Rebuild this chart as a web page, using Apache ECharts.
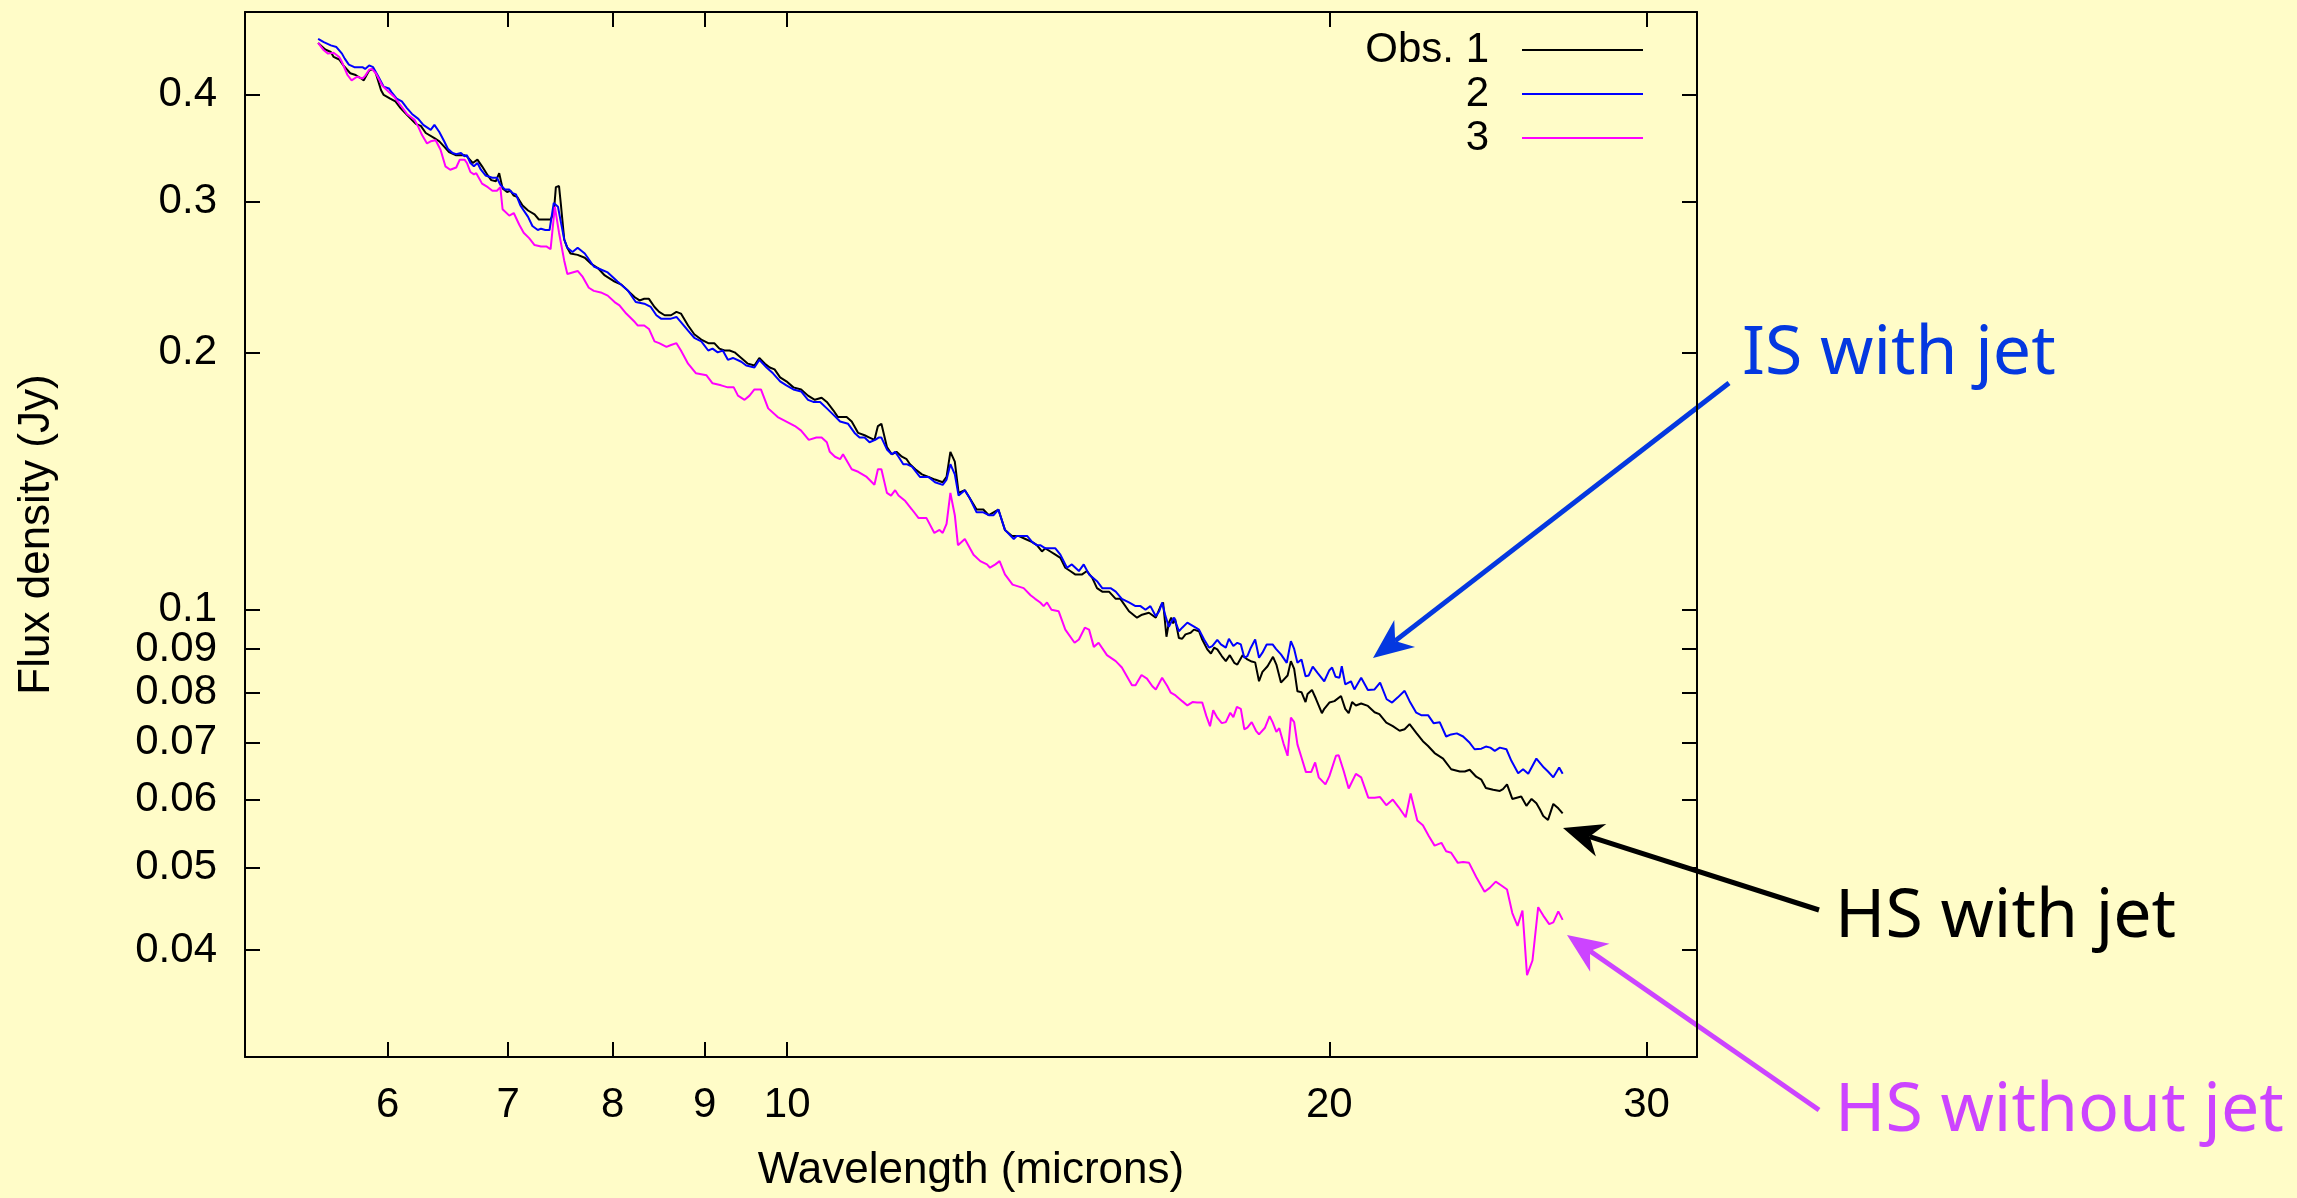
<!DOCTYPE html>
<html>
<head>
<meta charset="utf-8">
<title>Flux density vs wavelength</title>
<script src="https://cdn.jsdelivr.net/npm/echarts@6/dist/echarts.min.js"></script>
<style>
  html, body { margin: 0; padding: 0; background: #fffcc8; }
  #chart { width: 2297px; height: 1198px; }
</style>
</head>
<body>
<div id="chart"></div>
<script>
// [wavelength (microns), flux density (Jy)]
var obs1 = [
  [5.49,0.460],[5.54,0.452],[5.58,0.449],[5.60,0.443],[5.64,0.440],[5.67,0.433],[5.72,0.424],[5.76,0.422],[5.80,0.418],[5.82,0.416],
  [5.86,0.427],[5.89,0.429],[5.91,0.424],[5.95,0.405],[5.97,0.400],[6.02,0.396],[6.06,0.393],[6.10,0.386],[6.15,0.379],[6.22,0.370],
  [6.26,0.368],[6.30,0.361],[6.37,0.356],[6.41,0.353],[6.45,0.348],[6.49,0.343],[6.55,0.340],[6.62,0.340],[6.64,0.339],[6.69,0.333],
  [6.73,0.336],[6.77,0.330],[6.82,0.322],[6.85,0.318],[6.89,0.317],[6.92,0.324],[6.95,0.311],[6.99,0.308],[7.02,0.309],[7.05,0.305],
  [7.08,0.304],[7.13,0.297],[7.18,0.293],[7.24,0.290],[7.28,0.286],[7.34,0.286],[7.39,0.286],[7.42,0.291],[7.44,0.312],[7.47,0.313],
  [7.49,0.296],[7.52,0.271],[7.55,0.265],[7.58,0.261],[7.65,0.260],[7.72,0.258],[7.78,0.254],[7.85,0.251],[7.92,0.246],[8.02,0.242],
  [8.09,0.240],[8.16,0.236],[8.23,0.232],[8.28,0.230],[8.33,0.231],[8.38,0.231],[8.44,0.226],[8.49,0.223],[8.55,0.221],[8.62,0.221],
  [8.68,0.223],[8.73,0.222],[8.81,0.215],[8.88,0.210],[8.96,0.207],[9.04,0.205],[9.11,0.205],[9.17,0.202],[9.23,0.201],[9.29,0.201],
  [9.35,0.200],[9.43,0.197],[9.51,0.194],[9.59,0.193],[9.65,0.197],[9.72,0.194],[9.78,0.192],[9.84,0.191],[9.91,0.187],[9.99,0.185],
  [10.08,0.182],[10.18,0.181],[10.27,0.178],[10.36,0.176],[10.45,0.177],[10.52,0.175],[10.61,0.171],[10.67,0.168],[10.79,0.168],[10.86,0.166],
  [10.95,0.161],[11.04,0.160],[11.11,0.159],[11.18,0.158],[11.23,0.164],[11.28,0.165],[11.36,0.155],[11.43,0.152],[11.50,0.153],[11.58,0.151],
  [11.65,0.150],[11.70,0.148],[11.78,0.146],[11.88,0.144],[11.98,0.143],[12.08,0.142],[12.20,0.141],[12.26,0.143],[12.32,0.153],[12.39,0.149],
  [12.45,0.137],[12.55,0.138],[12.63,0.135],[12.74,0.131],[12.85,0.131],[12.94,0.129],[13.02,0.130],[13.10,0.131],[13.21,0.124],[13.33,0.122],
  [13.44,0.122],[13.56,0.121],[13.68,0.120],[13.76,0.119],[13.85,0.117],[13.91,0.118],[14.00,0.117],[14.09,0.116],[14.18,0.115],[14.27,0.112],
  [14.36,0.111],[14.45,0.110],[14.58,0.110],[14.67,0.111],[14.77,0.109],[14.86,0.106],[14.96,0.105],[15.09,0.105],[15.22,0.103],[15.31,0.103],
  [15.48,0.0996],[15.64,0.0979],[15.74,0.0987],[15.88,0.0992],[16.02,0.0979],[16.12,0.101],[16.17,0.102],[16.24,0.0930],[16.29,0.0966],[16.34,0.0979],
  [16.38,0.0964],[16.42,0.0976],[16.50,0.0927],[16.57,0.0925],[16.64,0.0936],[16.75,0.0940],[16.82,0.0948],[16.93,0.0944],[17.00,0.0923],[17.11,0.0899],
  [17.19,0.0889],[17.26,0.0903],[17.33,0.0899],[17.43,0.0883],[17.52,0.0871],[17.61,0.0885],[17.71,0.0867],[17.78,0.0863],[17.90,0.0885],[18.01,0.0875],
  [18.11,0.0870],[18.19,0.0868],[18.28,0.0825],[18.36,0.0846],[18.48,0.0859],[18.61,0.0881],[18.69,0.0863],[18.80,0.0822],[18.96,0.0838],[19.04,0.0871],
  [19.12,0.0853],[19.20,0.0803],[19.30,0.0801],[19.40,0.0780],[19.45,0.0797],[19.56,0.0806],[19.66,0.0787],[19.81,0.0757],[19.87,0.0766],[20.00,0.0779],
  [20.13,0.0782],[20.30,0.0793],[20.41,0.0766],[20.50,0.0757],[20.59,0.0780],[20.69,0.0773],[20.83,0.0777],[21.01,0.0772],[21.19,0.0759],[21.32,0.0755],
  [21.51,0.0738],[21.69,0.0731],[21.88,0.0722],[22.02,0.0725],[22.16,0.0735],[22.35,0.0718],[22.54,0.0702],[22.69,0.0693],[22.88,0.0680],[23.13,0.0670],
  [23.37,0.0651],[23.63,0.0647],[23.78,0.0647],[23.93,0.0650],[24.13,0.0638],[24.29,0.0633],[24.43,0.0619],[24.66,0.0616],[24.87,0.0614],[24.97,0.0617],
  [25.10,0.0625],[25.27,0.0601],[25.56,0.0605],[25.73,0.0590],[25.90,0.0601],[26.06,0.0594],[26.18,0.0584],[26.29,0.0574],[26.45,0.0568],[26.63,0.0593],
  [26.80,0.0586],[26.95,0.0578]
];

var obs2 = [
  [5.49,0.465],[5.53,0.461],[5.58,0.457],[5.62,0.455],[5.66,0.447],[5.68,0.441],[5.71,0.434],[5.75,0.431],[5.81,0.431],[5.83,0.429],
  [5.86,0.433],[5.89,0.431],[5.93,0.420],[5.97,0.409],[6.01,0.407],[6.03,0.403],[6.07,0.396],[6.11,0.393],[6.15,0.386],[6.19,0.380],
  [6.24,0.375],[6.28,0.369],[6.34,0.364],[6.37,0.369],[6.41,0.362],[6.45,0.353],[6.48,0.346],[6.52,0.342],[6.55,0.341],[6.59,0.342],
  [6.62,0.339],[6.64,0.340],[6.67,0.333],[6.70,0.330],[6.73,0.333],[6.76,0.327],[6.80,0.322],[6.86,0.320],[6.90,0.320],[6.93,0.314],
  [6.97,0.310],[7.01,0.310],[7.04,0.307],[7.07,0.306],[7.11,0.297],[7.18,0.288],[7.22,0.281],[7.27,0.278],[7.30,0.279],[7.34,0.278],
  [7.38,0.278],[7.42,0.299],[7.46,0.296],[7.49,0.283],[7.52,0.271],[7.55,0.265],[7.60,0.262],[7.65,0.265],[7.72,0.261],[7.81,0.252],
  [7.88,0.250],[7.95,0.248],[8.05,0.242],[8.16,0.236],[8.24,0.229],[8.33,0.228],[8.40,0.226],[8.46,0.221],[8.51,0.219],[8.62,0.219],
  [8.68,0.220],[8.73,0.217],[8.81,0.212],[8.88,0.208],[8.96,0.206],[9.04,0.201],[9.09,0.202],[9.15,0.200],[9.21,0.201],[9.27,0.196],
  [9.33,0.197],[9.43,0.195],[9.49,0.193],[9.59,0.192],[9.65,0.196],[9.74,0.192],[9.82,0.189],[9.91,0.185],[9.99,0.183],[10.08,0.181],
  [10.18,0.180],[10.27,0.176],[10.34,0.175],[10.43,0.175],[10.52,0.172],[10.61,0.169],[10.70,0.166],[10.81,0.165],[10.90,0.161],[10.97,0.159],
  [11.04,0.159],[11.11,0.157],[11.19,0.158],[11.24,0.159],[11.28,0.159],[11.36,0.154],[11.43,0.152],[11.48,0.153],[11.53,0.151],[11.60,0.148],
  [11.65,0.148],[11.73,0.147],[11.85,0.143],[11.98,0.143],[12.08,0.141],[12.20,0.140],[12.26,0.142],[12.32,0.148],[12.39,0.144],[12.45,0.136],
  [12.55,0.138],[12.63,0.135],[12.74,0.130],[12.85,0.130],[12.94,0.129],[13.02,0.129],[13.10,0.131],[13.21,0.124],[13.36,0.121],[13.41,0.122],
  [13.50,0.122],[13.59,0.122],[13.68,0.120],[13.76,0.119],[13.82,0.119],[13.91,0.118],[14.00,0.118],[14.09,0.118],[14.18,0.116],[14.30,0.112],
  [14.39,0.113],[14.52,0.111],[14.61,0.113],[14.71,0.110],[14.86,0.108],[14.96,0.106],[15.12,0.106],[15.22,0.105],[15.34,0.103],[15.48,0.102],
  [15.61,0.101],[15.71,0.101],[15.81,0.100],[15.91,0.101],[16.02,0.0983],[16.09,0.0996],[16.15,0.102],[16.22,0.0983],[16.29,0.0955],[16.35,0.0970],
  [16.40,0.0979],[16.45,0.0961],[16.50,0.0944],[16.57,0.0953],[16.68,0.0966],[16.75,0.0961],[16.86,0.0953],[16.93,0.0948],[17.04,0.0923],[17.15,0.0903],
  [17.22,0.0907],[17.33,0.0922],[17.41,0.0911],[17.52,0.0903],[17.59,0.0925],[17.69,0.0907],[17.78,0.0915],[17.86,0.0911],[17.94,0.0879],[18.01,0.0883],
  [18.09,0.0903],[18.19,0.0923],[18.28,0.0879],[18.36,0.0891],[18.46,0.0911],[18.60,0.0911],[18.68,0.0900],[18.80,0.0887],[18.94,0.0867],[19.04,0.0919],
  [19.12,0.0900],[19.20,0.0867],[19.30,0.0875],[19.40,0.0836],[19.48,0.0838],[19.58,0.0858],[19.70,0.0844],[19.87,0.0825],[20.00,0.0850],[20.07,0.0856],
  [20.16,0.0835],[20.26,0.0833],[20.32,0.0859],[20.41,0.0818],[20.56,0.0825],[20.65,0.0807],[20.83,0.0833],[21.01,0.0806],[21.19,0.0807],[21.34,0.0822],
  [21.52,0.0786],[21.67,0.0779],[21.83,0.0790],[22.02,0.0804],[22.16,0.0782],[22.35,0.0758],[22.49,0.0753],[22.69,0.0753],[22.85,0.0737],[23.03,0.0739],
  [23.22,0.0711],[23.37,0.0715],[23.54,0.0717],[23.73,0.0711],[23.93,0.0699],[24.08,0.0687],[24.29,0.0688],[24.43,0.0692],[24.57,0.0690],[24.71,0.0684],
  [24.87,0.0690],[25.08,0.0687],[25.24,0.0666],[25.46,0.0644],[25.62,0.0651],[25.79,0.0643],[26.06,0.0670],[26.12,0.0672],[26.31,0.0654],[26.45,0.0647],
  [26.63,0.0637],[26.83,0.0654],[26.95,0.0643]
];

var obs3 = [
  [5.49,0.460],[5.53,0.451],[5.56,0.447],[5.60,0.448],[5.64,0.443],[5.66,0.437],[5.70,0.422],[5.73,0.416],[5.77,0.420],[5.81,0.418],
  [5.83,0.421],[5.86,0.428],[5.88,0.429],[5.91,0.424],[5.96,0.410],[6.01,0.403],[6.05,0.398],[6.10,0.389],[6.15,0.380],[6.21,0.374],
  [6.24,0.367],[6.27,0.359],[6.31,0.351],[6.34,0.353],[6.38,0.354],[6.42,0.345],[6.46,0.330],[6.50,0.327],[6.55,0.329],[6.58,0.336],
  [6.62,0.336],[6.64,0.333],[6.67,0.325],[6.70,0.323],[6.72,0.324],[6.77,0.315],[6.82,0.312],[6.86,0.309],[6.90,0.309],[6.93,0.312],
  [6.95,0.294],[7.01,0.289],[7.05,0.291],[7.10,0.282],[7.14,0.276],[7.19,0.272],[7.24,0.267],[7.30,0.266],[7.35,0.266],[7.39,0.264],
  [7.43,0.296],[7.47,0.276],[7.52,0.256],[7.55,0.247],[7.60,0.248],[7.65,0.249],[7.70,0.245],[7.76,0.238],[7.81,0.236],[7.88,0.235],
  [7.95,0.233],[8.02,0.229],[8.07,0.227],[8.14,0.222],[8.23,0.217],[8.26,0.215],[8.33,0.215],[8.38,0.213],[8.44,0.206],[8.49,0.205],
  [8.57,0.203],[8.62,0.204],[8.68,0.205],[8.73,0.201],[8.81,0.194],[8.90,0.189],[9.02,0.188],[9.09,0.184],[9.19,0.183],[9.27,0.182],
  [9.34,0.182],[9.39,0.178],[9.47,0.176],[9.53,0.178],[9.59,0.181],[9.67,0.181],[9.76,0.172],[9.88,0.168],[9.99,0.166],[10.10,0.164],
  [10.18,0.162],[10.28,0.158],[10.38,0.159],[10.45,0.159],[10.52,0.157],[10.56,0.153],[10.63,0.151],[10.70,0.150],[10.74,0.152],[10.86,0.146],
  [10.95,0.145],[11.07,0.143],[11.18,0.140],[11.23,0.146],[11.28,0.146],[11.36,0.137],[11.42,0.136],[11.48,0.138],[11.53,0.136],[11.63,0.134],
  [11.73,0.131],[11.83,0.128],[11.95,0.128],[12.07,0.123],[12.15,0.124],[12.20,0.123],[12.26,0.126],[12.32,0.137],[12.39,0.129],[12.44,0.119],
  [12.55,0.121],[12.69,0.116],[12.80,0.114],[12.91,0.113],[12.96,0.112],[13.05,0.113],[13.12,0.114],[13.21,0.110],[13.34,0.107],[13.53,0.106],
  [13.65,0.104],[13.73,0.103],[13.82,0.102],[13.88,0.101],[13.94,0.102],[14.02,0.100],[14.15,0.0996],[14.27,0.0948],[14.44,0.0915],[14.52,0.0923],
  [14.63,0.0953],[14.71,0.0948],[14.80,0.0905],[14.89,0.0915],[15.05,0.0885],[15.22,0.0871],[15.34,0.0856],[15.54,0.0816],[15.61,0.0816],[15.73,0.0839],
  [15.84,0.0831],[15.95,0.0814],[16.02,0.0807],[16.15,0.0833],[16.26,0.0814],[16.33,0.0800],[16.43,0.0794],[16.57,0.0782],[16.68,0.0773],[16.79,0.0780],
  [16.89,0.0779],[17.00,0.0779],[17.09,0.0751],[17.17,0.0731],[17.24,0.0763],[17.33,0.0748],[17.43,0.0737],[17.52,0.0739],[17.62,0.0758],[17.69,0.0749],
  [17.77,0.0770],[17.86,0.0766],[17.94,0.0725],[18.01,0.0728],[18.11,0.0739],[18.21,0.0722],[18.28,0.0715],[18.42,0.0728],[18.53,0.0751],[18.60,0.0739],
  [18.69,0.0720],[18.76,0.0727],[18.86,0.0698],[18.96,0.0675],[19.04,0.0748],[19.12,0.0739],[19.20,0.0696],[19.30,0.0672],[19.41,0.0646],[19.54,0.0646],
  [19.64,0.0663],[19.73,0.0637],[19.90,0.0625],[20.00,0.0639],[20.17,0.0675],[20.24,0.0676],[20.37,0.0648],[20.50,0.0618],[20.69,0.0643],[20.83,0.0637],
  [21.02,0.0603],[21.19,0.0603],[21.34,0.0604],[21.51,0.0591],[21.69,0.0600],[21.85,0.0588],[22.05,0.0572],[22.19,0.0610],[22.38,0.0567],[22.54,0.0560],
  [22.71,0.0544],[22.88,0.0530],[23.08,0.0534],[23.22,0.0522],[23.37,0.0520],[23.57,0.0506],[23.73,0.0507],[23.91,0.0506],[24.13,0.0487],[24.39,0.0468],
  [24.55,0.0473],[24.74,0.0481],[24.92,0.0476],[25.10,0.0471],[25.27,0.0442],[25.44,0.0427],[25.60,0.0445],[25.75,0.0374],[25.93,0.0389],[26.12,0.0449],
  [26.29,0.0439],[26.49,0.0429],[26.63,0.0431],[26.80,0.0444],[26.95,0.0434]
];

var seriesNames = ['Obs. 1', '2', '3'];
var seriesColors = ['#000000', '#0000ff', '#ff00ff'];
var xTicks = [6, 7, 8, 9, 10, 20, 30];
var yTicks = [0.04, 0.05, 0.06, 0.07, 0.08, 0.09, 0.1, 0.2, 0.3, 0.4];

// hand-drawn style annotations (pixel positions)
var notes = [
  { text: 'IS with jet', color: '#0438e0', x: 1742, y: 355, from: [1729, 383], to: [1373, 658] },
  { text: 'HS with jet', color: '#000000', x: 1835, y: 918, from: [1819, 910], to: [1563, 828] },
  { text: 'HS without jet', color: '#cc44ff', x: 1835, y: 1112, from: [1819, 1110], to: [1567, 935] }
];

var font = 'Liberation Sans, Arial, Helvetica, sans-serif';
var axisLine = { show: true, onZero: false, lineStyle: { color: '#000', width: 2 } };

function makeAxis(kind, pos, main) {
  var ticks = kind === 'x' ? xTicks : yTicks;
  var ax = {
    type: 'log',
    logBase: 10,
    position: pos,
    min: kind === 'x' ? 5 : 0.03,
    max: kind === 'x' ? 32 : 0.5,
    axisLine: axisLine,
    axisTick: { show: true, inside: true, length: 15, customValues: ticks, lineStyle: { color: '#000', width: 2 } },
    minorTick: { show: false },
    splitLine: { show: false },
    axisLabel: { show: false }
  };
  if (main) {
    ax.axisLabel = {
      show: true,
      customValues: ticks,
      hideOverlap: false,
      color: '#000',
      fontSize: 42,
      fontFamily: font,
      margin: kind === 'x' ? 27 : 28,
      formatter: function (v) { return kind === 'x' ? String(Math.round(v)) : String(+(+v).toFixed(2)); }
    };
    ax.nameLocation = 'middle';
    ax.nameTextStyle = { color: '#000', fontSize: 44, fontFamily: font };
    if (kind === 'x') {
      ax.name = 'Wavelength (microns)';
      ax.nameGap = 92;
    } else {
      ax.name = 'Flux density (Jy)';
      ax.nameGap = 186;
    }
  }
  return ax;
}

var graphics = [];
notes.forEach(function (n) {
  var dx = n.to[0] - n.from[0], dy = n.to[1] - n.from[1];
  var len = Math.sqrt(dx * dx + dy * dy);
  var ux = dx / len, uy = dy / len, px = -uy, py = ux;
  var L = 40, W = 17, notch = 12;
  var tx = n.to[0], ty = n.to[1];
  graphics.push({
    type: 'line', silent: true,
    shape: { x1: n.from[0], y1: n.from[1], x2: tx - (L - notch) * ux, y2: ty - (L - notch) * uy },
    style: { stroke: n.color, lineWidth: 5 }
  });
  graphics.push({
    type: 'polygon', silent: true,
    shape: { points: [
      [tx, ty],
      [tx - L * ux + W * px, ty - L * uy + W * py],
      [tx - (L - notch) * ux, ty - (L - notch) * uy],
      [tx - L * ux - W * px, ty - L * uy - W * py]
    ] },
    style: { fill: n.color }
  });
  graphics.push({
    type: 'text', silent: true, x: n.x, y: n.y,
    style: { text: n.text, fill: n.color, fontSize: 68, fontFamily: 'Comic Sans MS, Noto Sans, sans-serif', align: 'left', verticalAlign: 'middle' }
  });
});

var chart = echarts.init(document.getElementById('chart'));
chart.setOption({
  backgroundColor: '#fffcc8',
  animation: false,
  grid: { left: 245, right: 600, top: 12, bottom: 139 },
  legend: {
    data: seriesNames,
    orient: 'vertical',
    right: 654,
    top: 29,
    padding: 0,
    itemGap: 2,
    align: 'right',
    icon: 'rect',
    itemWidth: 121,
    itemHeight: 2,
    selectedMode: false,
    formatter: function (name) { return '{n|' + name + '}'; },
    textStyle: {
      rich: { n: { width: 130, align: 'right', fontSize: 42, lineHeight: 44, fontFamily: font, color: '#000', padding: [0, 28, 0, 0] } }
    }
  },
  xAxis: [makeAxis('x', 'bottom', true), makeAxis('x', 'top', false)],
  yAxis: [makeAxis('y', 'left', true), makeAxis('y', 'right', false)],
  series: [obs1, obs2, obs3].map(function (d, i) {
    return {
      name: seriesNames[i],
      type: 'line',
      xAxisIndex: 0,
      yAxisIndex: 0,
      data: d,
      symbol: 'none',
      color: seriesColors[i],
      lineStyle: { color: seriesColors[i], width: 2 }
    };
  }),
  graphic: graphics
});
</script>
</body>
</html>
